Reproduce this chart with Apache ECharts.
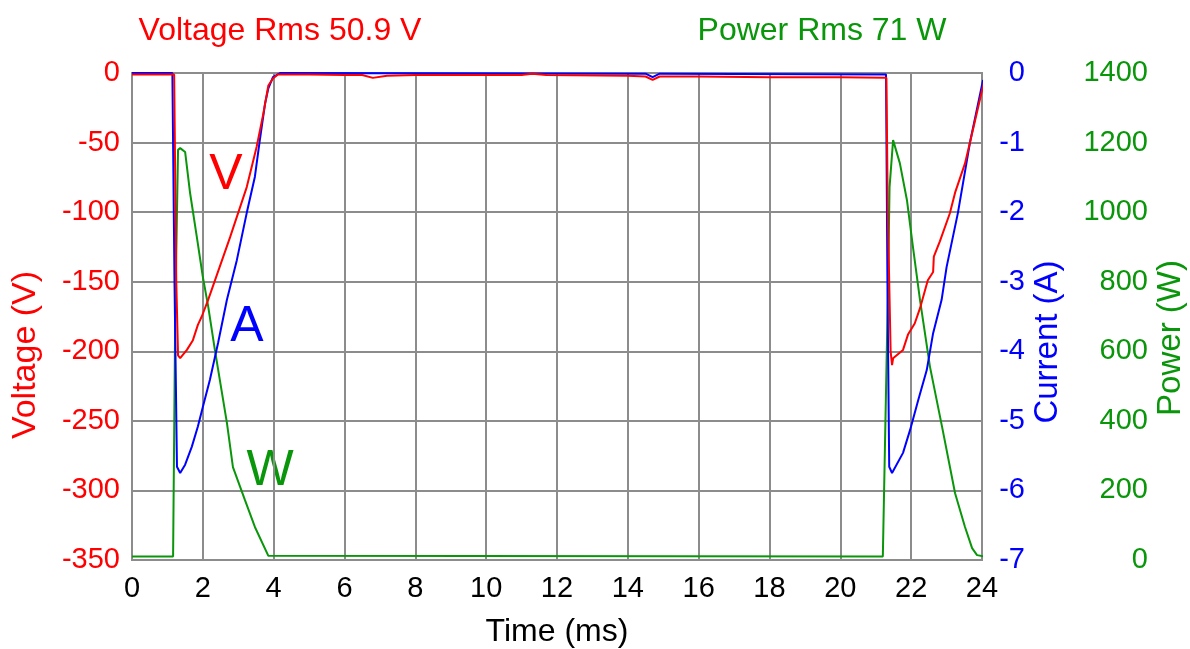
<!DOCTYPE html>
<html>
<head>
<meta charset="utf-8">
<script src="https://cdn.jsdelivr.net/npm/echarts@6/dist/echarts.min.js"></script>
<style>html,body{margin:0;padding:0;background:#fff;}#c{width:1190px;height:649px;}</style>
</head>
<body>
<div id="c"></div>
<script>
// Time (ms), Voltage (V)
const voltage = [[0,-1],[1.19,-1],[1.25,-150],[1.3,-203],[1.36,-205],[1.55,-199],[1.72,-192],[1.86,-181],[1.97,-175],[2.15,-163],[2.77,-118],[3.24,-82],[3.52,-53],[3.71,-29],[3.85,-9],[3.98,-4],[4.12,-1],[5,-1],[6,-1.5],[6.5,-1.5],[6.8,-3.5],[7.2,-2],[8,-1.5],[10,-1.5],[11,-1.5],[11.3,-0.5],[11.7,-1.5],[14,-2],[14.5,-2.5],[14.7,-5],[14.9,-2.5],[16,-2.5],[18,-3],[20,-3],[21.3,-3.5],[21.34,-100],[21.42,-200],[21.46,-210],[21.49,-205],[21.77,-199],[21.91,-188],[22.1,-180],[22.25,-169],[22.47,-149],[22.62,-143],[22.64,-132],[22.81,-121],[23.09,-101],[23.24,-86],[23.52,-65],[23.66,-50],[24.08,-4]];
// Time (ms), Current (A)
const current = [[0,0],[1.14,0],[1.2,-3],[1.27,-5.66],[1.36,-5.75],[1.5,-5.63],[1.69,-5.37],[1.86,-5.08],[2.0,-4.8],[2.2,-4.41],[2.43,-3.88],[2.68,-3.26],[2.96,-2.69],[3.24,-2.01],[3.47,-1.49],[3.61,-0.96],[3.76,-0.43],[3.85,-0.22],[3.98,-0.06],[4.18,0],[14.5,-0.01],[14.7,-0.06],[14.9,-0.01],[21.29,-0.02],[21.33,-3],[21.38,-5.66],[21.46,-5.75],[21.77,-5.46],[21.97,-5.13],[22.2,-4.7],[22.44,-4.27],[22.62,-3.74],[22.86,-3.26],[23.0,-2.79],[23.32,-2.01],[23.66,-1.0],[24.03,-0.1]];
// Time (ms), Power (W)
const power = [[0,10],[1.16,10],[1.22,700],[1.3,1179],[1.36,1184],[1.5,1173],[1.64,1055],[1.83,929],[2.0,814],[2.15,730],[2.34,604],[2.68,394],[2.85,267],[3.19,172],[3.47,95],[3.85,12],[21.2,10],[21.34,750],[21.39,1072],[21.49,1207],[21.68,1141],[21.88,1035],[22.05,900],[22.25,747],[22.53,556],[22.87,384],[23.24,192],[23.52,95],[23.72,34],[23.86,14],[24.1,9]];

const titleVoltage = 'Voltage Rms 50.9 V';
const titlePower = 'Power Rms 71 W';

const RED = '#ff0000', BLUE = '#0000ff', GREEN = '#0a960a', GRID = '#8c8c8c';
const FONT = 'Liberation Sans, Arial, sans-serif';
const FS = 29;
const FN = 32;

const chart = echarts.init(document.getElementById('c'));
chart.setOption({
  animation: false,
  backgroundColor: '#fff',
  grid: {left: 132, right: 208, top: 73, bottom: 89, show: true, borderColor: GRID, borderWidth: 2,
         containLabel: false, outerBoundsMode: 'none'},
  xAxis: {
    type: 'value', min: 0, max: 24, interval: 2,
    axisLine: {show: false}, axisTick: {show: false},
    splitLine: {lineStyle: {color: GRID, width: 2}},
    axisLabel: {color: '#000', fontSize: FS, fontFamily: FONT, margin: 14},
    name: 'Time (ms)', nameLocation: 'middle', nameGap: 56,
    nameTextStyle: {color: '#000', fontSize: FN, fontFamily: FONT}
  },
  yAxis: [
    {type: 'value', min: -350, max: 0, interval: 50, position: 'left',
     axisLine: {show: false}, axisTick: {show: false},
     splitLine: {lineStyle: {color: GRID, width: 2}},
     axisLabel: {color: RED, fontSize: FS, fontFamily: FONT, margin: 12}},
    {type: 'value', min: -7, max: 0, interval: 1, position: 'right',
     axisLine: {show: false}, axisTick: {show: false}, splitLine: {show: false},
     axisLabel: {color: BLUE, fontSize: FS, fontFamily: FONT, align: 'right', margin: 43}},
    {type: 'value', min: 0, max: 1400, interval: 200, position: 'right',
     axisLine: {show: false}, axisTick: {show: false}, splitLine: {show: false},
     axisLabel: {color: GREEN, fontSize: FS, fontFamily: FONT, align: 'right', margin: 166,
                 formatter: function (v) { return String(v); }}}
  ],
  series: [
    {type: 'line', yAxisIndex: 2, data: power, showSymbol: false, clip: false,
     lineStyle: {color: GREEN, width: 2}, itemStyle: {color: GREEN}},
    {type: 'line', yAxisIndex: 1, data: current, showSymbol: false, clip: false,
     lineStyle: {color: BLUE, width: 2}, itemStyle: {color: BLUE}},
    {type: 'line', yAxisIndex: 0, data: voltage, showSymbol: false, clip: false,
     lineStyle: {color: RED, width: 2}, itemStyle: {color: RED}}
  ],
  graphic: [
    {type: 'text', x: 280, y: 31, style: {text: titleVoltage, fill: RED, font: FN + 'px ' + FONT, align: 'center', verticalAlign: 'middle'}},
    {type: 'text', x: 822, y: 31, style: {text: titlePower, fill: GREEN, font: FN + 'px ' + FONT, align: 'center', verticalAlign: 'middle'}},
    {type: 'text', x: 26, y: 355, rotation: Math.PI / 2, style: {text: 'Voltage (V)', fill: RED, font: '34px ' + FONT, align: 'center', verticalAlign: 'middle'}},
    {type: 'text', x: 1048, y: 342, rotation: Math.PI / 2, style: {text: 'Current (A)', fill: BLUE, font: '33px ' + FONT, align: 'center', verticalAlign: 'middle'}},
    {type: 'text', x: 1171, y: 338, rotation: Math.PI / 2, style: {text: 'Power (W)', fill: GREEN, font: '33px ' + FONT, align: 'center', verticalAlign: 'middle'}},
    {type: 'text', x: 226, y: 175, style: {text: 'V', fill: RED, font: '50px ' + FONT, align: 'center', verticalAlign: 'middle'}},
    {type: 'text', x: 247, y: 327, style: {text: 'A', fill: BLUE, font: '50px ' + FONT, align: 'center', verticalAlign: 'middle'}},
    {type: 'text', x: 270, y: 471, style: {text: 'W', fill: GREEN, font: '50px ' + FONT, align: 'center', verticalAlign: 'middle'}}
  ]
});
</script>
</body>
</html>
